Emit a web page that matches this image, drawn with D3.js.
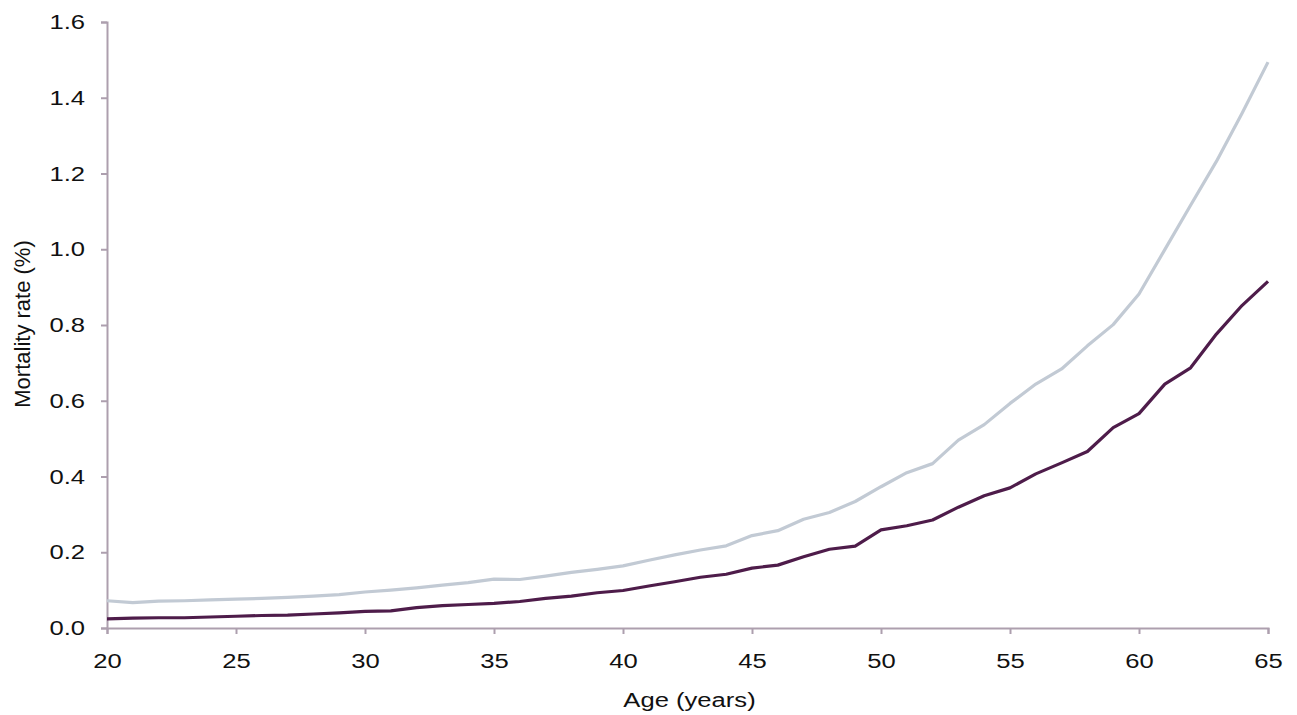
<!DOCTYPE html>
<html>
<head>
<meta charset="utf-8">
<script src="https://cdn.jsdelivr.net/npm/d3@7"></script>
<style>
  body { margin: 0; background: #fff; }
  svg { display: block; }
  .tick text { font-family: "Liberation Sans", Arial, sans-serif; }
</style>
</head>
<body>
<svg id="chart" width="1297" height="715"></svg>
<script>
// ages on the x axis
const ages = d3.range(20, 66);

// upper (light) series, mortality rate %
const lightRates = [
  0.072, 0.067, 0.071, 0.072, 0.074, 0.076, 0.078, 0.081, 0.084, 0.088,
  0.095, 0.100, 0.106, 0.113, 0.120, 0.129, 0.128, 0.137, 0.147, 0.155,
  0.164, 0.179, 0.193, 0.206, 0.217, 0.244, 0.257, 0.287, 0.305, 0.334,
  0.373, 0.410, 0.434, 0.496, 0.537, 0.593, 0.644, 0.684, 0.745, 0.801,
  0.882, 0.999, 1.116, 1.232, 1.360, 1.494
];

// lower (dark) series, mortality rate %
const darkRates = [
  0.024, 0.026, 0.027, 0.027, 0.029, 0.031, 0.033, 0.034, 0.037, 0.040,
  0.044, 0.045, 0.054, 0.059, 0.062, 0.065, 0.070, 0.078, 0.084, 0.093,
  0.099, 0.111, 0.122, 0.134, 0.142, 0.158, 0.166, 0.188, 0.208, 0.216,
  0.259, 0.270, 0.285, 0.319, 0.349, 0.370, 0.407, 0.436, 0.466, 0.529,
  0.566, 0.644, 0.687, 0.776, 0.852, 0.915
];

const xTicks = [20, 25, 30, 35, 40, 45, 50, 55, 60, 65];
const yTicks = [0, 0.2, 0.4, 0.6, 0.8, 1.0, 1.2, 1.4, 1.6];

const svg = d3.select("#chart");
const margin = { left: 107, right: 29, top: 22, bottom: 87 };
const width = 1297 - margin.left - margin.right;
const height = 715 - margin.top - margin.bottom;
const axisColor = "#ad9fae";
// the reference text looks a bit wide, so stretch it sideways
const stretch = 1.22;

const g = svg.append("g").attr("transform", `translate(${margin.left},${margin.top})`);

const x = d3.scaleLinear().domain([20, 65]).range([0, width]);
const y = d3.scaleLinear().domain([0, 1.6]).range([height, 0]);

// x axis
const xAxis = g.append("g")
  .attr("transform", `translate(0,${height})`)
  .call(d3.axisBottom(x).tickValues(xTicks).tickSize(6).tickPadding(19).tickFormat(d3.format("d")));
xAxis.select(".domain").attr("stroke", axisColor).attr("stroke-width", 2);
xAxis.selectAll(".tick line").attr("stroke", axisColor).attr("stroke-width", 2);
xAxis.selectAll(".tick text")
  .attr("font-size", 21)
  .attr("fill", "#111")
  .attr("transform", `scale(${stretch},1)`);

// y axis
const yAxis = g.append("g")
  .call(d3.axisLeft(y).tickValues(yTicks).tickSize(6).tickPadding(16).tickFormat(d3.format(".1f")));
yAxis.select(".domain").attr("stroke", axisColor).attr("stroke-width", 2);
yAxis.selectAll(".tick line").attr("stroke", axisColor).attr("stroke-width", 2);
yAxis.selectAll(".tick text")
  .attr("font-size", 21)
  .attr("fill", "#111")
  .attr("x", -22 / stretch)
  .attr("transform", `scale(${stretch},1)`);

// axis titles
const cx = margin.left + x(42.5) + 2;
svg.append("text")
  .attr("transform", `translate(${cx},707) scale(${stretch},1)`)
  .attr("text-anchor", "middle")
  .attr("font-family", "Liberation Sans, Arial, sans-serif")
  .attr("font-size", 21)
  .attr("fill", "#111")
  .text("Age (years)");

svg.append("text")
  .attr("transform", `translate(30,${margin.top + y(0.8) - 1}) rotate(-90)`)
  .attr("text-anchor", "middle")
  .attr("font-family", "Liberation Sans, Arial, sans-serif")
  .attr("font-size", 22)
  .attr("fill", "#111")
  .text("Mortality rate (%)");

// lines
const line = d3.line()
  .x((d, i) => x(ages[i]))
  .y(d => y(d));

g.append("path")
  .datum(lightRates)
  .attr("fill", "none")
  .attr("stroke", "#c2cad4")
  .attr("stroke-width", 3.2)
  .attr("stroke-linejoin", "round")
  .attr("d", line);

g.append("path")
  .datum(darkRates)
  .attr("fill", "none")
  .attr("stroke", "#4e1c4a")
  .attr("stroke-width", 3.2)
  .attr("stroke-linejoin", "round")
  .attr("d", line);
</script>
</body>
</html>
